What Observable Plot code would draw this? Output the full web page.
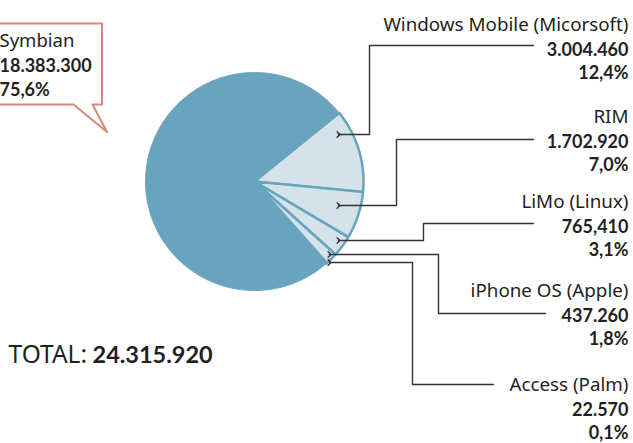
<!DOCTYPE html>
<html><head><meta charset="utf-8">
<script src="https://cdn.jsdelivr.net/npm/d3@7"></script>
<script src="https://cdn.jsdelivr.net/npm/@observablehq/plot@0.6"></script>
<style>body{margin:0;background:#fff;overflow:hidden}</style>
</head><body><div id="chart"></div>
<script>
// ---- data ----
const names = ["Windows Mobile (Micorsoft)", "RIM", "LiMo (Linux)", "iPhone OS (Apple)", "Access (Palm)", "Symbian"];
const units = [3004460, 1702920, 765410, 437260, 22570, 18383300];
const unitLabels = ["3.004.460", "1.702.920", "765,410", "437.260", "22.570", "18.383.300"];
const shareLabels = ["12,4%", "7,0%", "3,1%", "1,8%", "0,1%", "75,6%"];
const totalPrefix = "TOTAL:";
const totalLabel = "24.315.920";

// ---- layout ----
const W = 633, H = 443;
const cx = 254, cy = 181, r = 109;
const startDeg = 51;
const dark = "#69a4be", light = "#d4e2ea", ink = "#231f20", callout = "#d8887a";
const regular = "'Noto Sans', Lato, sans-serif";
const boldFont = "Lato, 'Noto Sans', sans-serif";

const pie = d3.pie().sort(null).value(d => d)
  .startAngle(startDeg * Math.PI / 180)
  .endAngle(startDeg * Math.PI / 180 + 2 * Math.PI);
const arcs = pie(units);

const slicePts = [];
arcs.forEach((a, i) => {
  const n = Math.max(2, Math.ceil((a.endAngle - a.startAngle) / (Math.PI / 360)));
  slicePts.push({i, x: cx, y: cy});
  for (let k = 0; k <= n; k++) {
    const t = a.startAngle + (a.endAngle - a.startAngle) * k / n;
    slicePts.push({i, x: cx + r * Math.sin(t), y: cy - r * Math.cos(t)});
  }
  slicePts.push({i, x: cx, y: cy});
});
const bigPts = slicePts.filter(p => p.i === 5);
const smallPts = slicePts.filter(p => p.i !== 5);

// leader lines (layout)
const leaderPaths = [
  [[338,134],[369,134],[369,45],[533,45]],
  [[338,205],[396,205],[396,139],[533,139]],
  [[338,240],[423,240],[423,223],[533,223]],
  [[329,254],[438,254],[438,313],[545,313]],
  [[329,262],[412,262],[412,384],[493,384]]
];
const leaderPts = leaderPaths.flatMap((p, i) => p.map(([x, y]) => ({i, x, y})));

const labelRight = 628;
const nameBase = [30, 122, 207, 296, 390];
const rows = d3.range(5).map(i => ({i, x: labelRight, y: nameBase[i]}));

// callout box for Symbian
const calloutShape = [[-10,23],[101.5,23],[101.5,104],[92,104],[106.5,131.5],[73,104],[-10,104],[-10,23]]
  .map(([x, y]) => ({x, y}));

const chart = Plot.plot({
  width: W, height: H,
  margin: 0,
  x: {domain: [0, W], range: [0, W], axis: null},
  y: {domain: [0, H], range: [0, H], axis: null},
  style: {fontFamily: regular, background: "#fff"},
  marks: [
    Plot.line(bigPts, {x: "x", y: "y", fill: dark, stroke: dark, strokeWidth: 1}),
    Plot.line(smallPts, {x: "x", y: "y", z: "i", fill: light, stroke: dark, strokeWidth: 2.5, strokeLinejoin: "round"}),
    Plot.line(leaderPts, {x: "x", y: "y", z: "i", stroke: "#333", strokeWidth: 1.4, markerStart: "arrow", curve: "linear"}),
    Plot.line(calloutShape, {x: "x", y: "y", fill: "#fff", stroke: callout, strokeWidth: 2}),
    // right labels
    Plot.text(rows, {x: "x", y: "y", text: d => names[d.i], textAnchor: "end", lineAnchor: "bottom", fontSize: 18.8, fontFamily: regular, fill: ink}),
    Plot.text(rows, {x: "x", y: d => d.y + 25, text: d => unitLabels[d.i], textAnchor: "end", lineAnchor: "bottom", fontSize: 18, fontFamily: boldFont, fontWeight: "bold", fill: ink}),
    Plot.text(rows, {x: "x", y: d => d.y + 48, text: d => shareLabels[d.i], textAnchor: "end", lineAnchor: "bottom", fontSize: 18, fontFamily: boldFont, fontWeight: "bold", fill: ink}),
    // Symbian
    Plot.text([0], {x: -1, y: 46, text: () => names[5], textAnchor: "start", lineAnchor: "bottom", fontSize: 18.5, fontFamily: regular, fill: ink}),
    Plot.text([0], {x: -1, y: 71, text: () => unitLabels[5], textAnchor: "start", lineAnchor: "bottom", fontSize: 18, fontFamily: boldFont, fontWeight: "bold", fill: ink}),
    Plot.text([0], {x: -1, y: 95, text: () => shareLabels[5], textAnchor: "start", lineAnchor: "bottom", fontSize: 18, fontFamily: boldFont, fontWeight: "bold", fill: ink}),
    // total
    Plot.text([0], {x: 8, y: 362, text: () => totalPrefix, textAnchor: "start", lineAnchor: "bottom", fontSize: 24.5, fontFamily: regular, fill: ink}),
    Plot.text([0], {x: 92, y: 362, text: () => totalLabel, textAnchor: "start", lineAnchor: "bottom", fontSize: 23.5, fontFamily: boldFont, fontWeight: "bold", fill: ink})
  ]
});
document.getElementById("chart").append(chart);
</script>
</body></html>
